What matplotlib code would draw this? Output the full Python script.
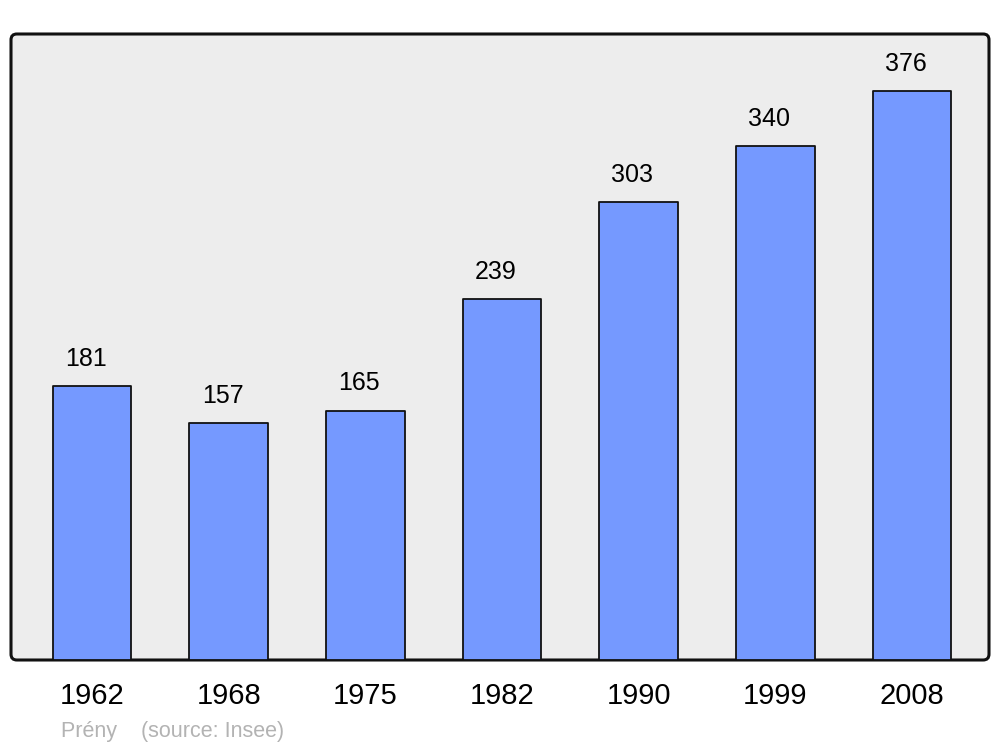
import matplotlib.pyplot as plt
from matplotlib.patches import FancyBboxPatch

plt.rcParams['font.family'] = ['Liberation Sans', 'DejaVu Sans']

years = ['1962', '1968', '1975', '1982', '1990', '1999', '2008']
population = [181, 157, 165, 239, 303, 340, 376]

fig = plt.figure(figsize=(10, 7.47), dpi=100)
ax = fig.add_axes([0.011, 87 / 747, 0.978, 626 / 747])
ax.set_facecolor('none')

# rounded background frame
frame = FancyBboxPatch((0, 0), 1, 1, transform=ax.transAxes,
                       boxstyle='round,pad=0,rounding_size=0.006',
                       mutation_aspect=978 / 626,
                       facecolor='#ededed', edgecolor='#111111',
                       linewidth=2.2, zorder=0, clip_on=False)
ax.add_patch(frame)

x = range(len(years))
bars = ax.bar(x, population, width=0.575, color='#7599ff',
              edgecolor='#111111', linewidth=1.3, zorder=2)
for b in bars:
    b.set_joinstyle('round')

for xi, v in zip(x, population):
    ax.annotate(str(v), (xi, v), xytext=(-4.5, 19.5), textcoords='offset points',
                ha='center', va='center', fontsize=18)

ax.set_xlim(-0.593, 6.563)
ax.set_ylim(0, 414)
for s in ax.spines.values():
    s.set_visible(False)
ax.set_yticks([])
ax.set_xticks(list(x))
ax.set_xticklabels(years, fontsize=21)
ax.tick_params(axis='x', length=0, pad=15.5)

fig.text(0.061, 15 / 747, 'Prény    (source: Insee)', fontsize=15.5,
         color='#b3b3b3', ha='left', va='center')

fig.savefig('out.png', dpi=100)
